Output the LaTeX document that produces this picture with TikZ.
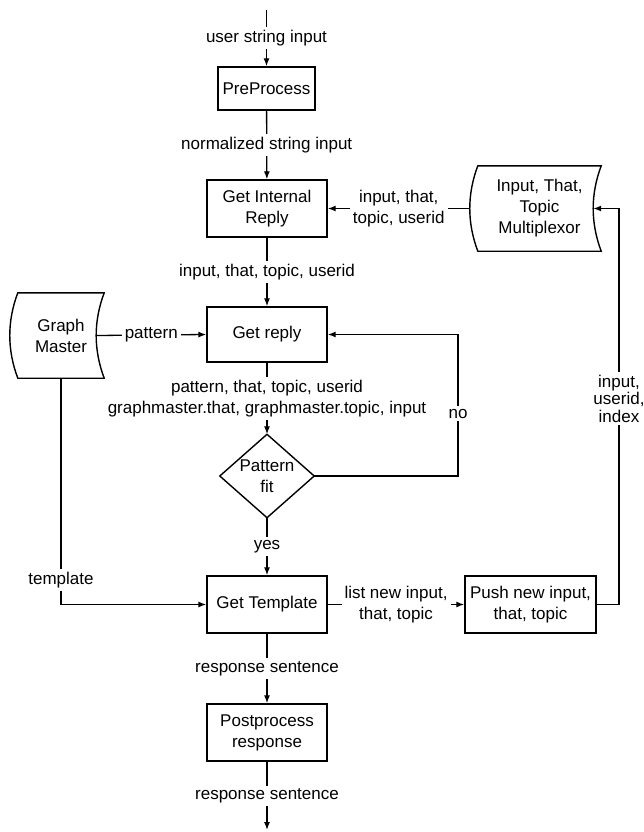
\documentclass[tikz,border=0pt]{standalone}
\usepackage{fontspec}
\setmainfont{Liberation Sans}
\usetikzlibrary{arrows.meta,calc}

% Stored-data outline around a named node: both sides bow to the left
\newcommand\storedoutline[2]{%
  \draw[line width=1.4pt]
    (#1.north west) -- (#1.north east)
    .. controls ($(#1.north east)!1/3!(#1.south east)+(-#2,0)$)
            and ($(#1.north east)!2/3!(#1.south east)+(-#2,0)$) .. (#1.south east)
    -- (#1.south west)
    .. controls ($(#1.south west)!1/3!(#1.north west)+(-#2,0)$)
            and ($(#1.south west)!2/3!(#1.north west)+(-#2,0)$) .. (#1.north west)
    -- cycle;}

\begin{document}
\begin{tikzpicture}[x=1pt,y=-1pt,
  every node/.style={font=\fontsize{17}{21}\selectfont, align=center},
  proc/.style={draw, line width=1.4pt, inner sep=2pt, minimum width=120pt, minimum height=57pt},
  store/.style={inner sep=2pt},
  flow/.style={line width=1.3pt, -{Latex[length=8pt,width=6pt]}},
  lbl/.style={fill=white, inner xsep=3pt, inner ysep=3pt},
  tightlbl/.style={lbl, font=\fontsize{17}{17.5}\selectfont}
]
\useasboundingbox (0,0) rectangle (644,832);

% process boxes
\node[proc, minimum width=97pt, minimum height=43pt] (pre) at (266.5,88.5) {PreProcess};
\node[proc] (gir) at (267,208.5) {Get Internal\\Reply};
\node[proc, minimum height=55pt] (gr) at (267,334.5) {Get reply};
\node[proc] (gt) at (267,604.5) {Get Template};
\node[proc, minimum width=131pt] (push) at (530.5,604.5) {Push new input,\\that, topic};
\node[proc] (pp) at (267,732.5) {Postprocess\\response};

% decision
\node[minimum width=94pt, minimum height=83pt, inner sep=0pt] (fit) at (267,476) {Pattern\\fit};
\draw[line width=1.4pt] (fit.north) -- (fit.east) -- (fit.south) -- (fit.west) -- cycle;

% stored data
\node[store, minimum width=86pt, minimum height=85pt] (gm) at (61,335.5) {Graph\\Master};
\storedoutline{gm}{10.7}
\node[store, minimum width=123pt, minimum height=85pt] (mux) at (539.5,208.5) {Input, That,\\Topic\\Multiplexor};
\storedoutline{mux}{10.7}

% free ends and corners
\coordinate (src) at (266.5,10);
\coordinate (sink) at (267,830);
\coordinate (noturn) at (458,334.5);
\coordinate (muxturn) at (619,208.5);

% main column
\draw[flow] (src) -- node[lbl]{user string input} (pre);
\draw[flow] (pre) -- node[lbl]{normalized string input} (gir);
\draw[flow] (gir) -- node[lbl]{input, that, topic, userid} (gr);
\draw[flow] (gr) -- node[lbl]{pattern, that, topic, userid\\graphmaster.that, graphmaster.topic, input} (fit.north);
\draw[flow] (fit.south) -- node[lbl]{yes} (gt);
\draw[flow] (gt) -- node[lbl]{response sentence} (pp);
\draw[flow] (pp) -- node[lbl]{response sentence} (sink);

% side connections
\draw[flow] ([xshift=-8pt]gm.east) -- node[lbl]{pattern} (gr.west);
\draw[flow] (gm.south) |- node[lbl, pos=0.445]{template} (gt.west);
\draw[flow] ([xshift=-8pt]mux.west) -- node[lbl]{input, that,\\topic, userid} (gir.east);
\draw[flow] (gt.east) -- node[lbl]{list new input,\\that, topic} (push.west);
\draw[flow] (fit.east) -| node[lbl, pos=0.72]{no} (noturn) -- (gr.east);
\draw[flow] (push.east) -| node[tightlbl, pos=0.76]{input,\\userid,\\index} (muxturn) -- ([xshift=-8pt]mux.east);
\end{tikzpicture}
\end{document}
